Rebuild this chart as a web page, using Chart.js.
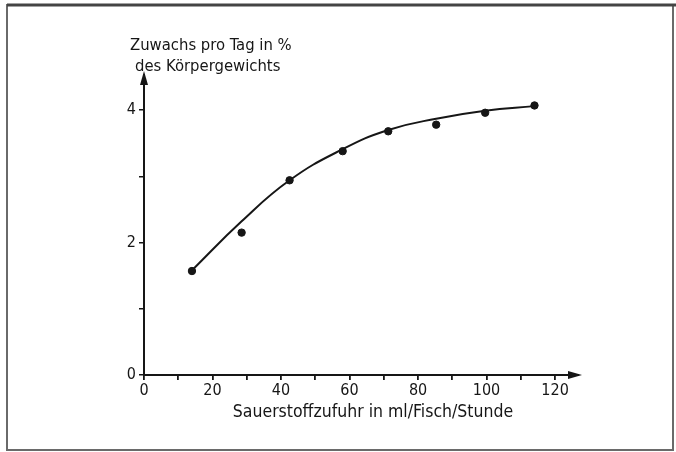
<!DOCTYPE html>
<html>
  <head>
    <title>Zuwachs vs Sauerstoffzufuhr</title>
    <style>
      body {
        margin: 0;
        background: #fff;
      }
    </style>
    <script src="https://cdn.jsdelivr.net/npm/chart.js"></script>
  </head>
  <body>
    <canvas id="chart" width="676" height="452"></canvas>

    <script>
      // values
      const oxygen = [14, 28.5, 42.5, 58, 71.3, 85.3, 99.6, 114];
      const growth = [1.57, 2.15, 2.94, 3.38, 3.68, 3.78, 3.96, 4.07];
      const fitted = [1.58, 2.32, 2.94, 3.41, 3.7, 3.87, 3.99, 4.06];
      const xTicks = [0, 10, 20, 30, 40, 50, 60, 70, 80, 90, 100, 110, 120];
      const yTicks = [0, 1, 2, 3, 4];

      const ink = "#161616";
      const fontFamily = "'DejaVu Sans Condensed', 'DejaVu Sans', sans-serif";

      const frameAndText = {
        id: "frameAndText",
        beforeDraw(chart) {
          const ctx = chart.ctx;
          ctx.save();
          ctx.fillStyle = "#fff";
          ctx.fillRect(0, 0, chart.width, chart.height);
          ctx.strokeStyle = "#6a6a6a";
          ctx.lineWidth = 2;
          ctx.strokeRect(7, 5, 666, 445);
          ctx.strokeStyle = "#444";
          ctx.lineWidth = 3;
          ctx.beginPath();
          ctx.moveTo(7, 5);
          ctx.lineTo(676, 5);
          ctx.stroke();
          ctx.restore();
        },
        afterDraw(chart) {
          const ctx = chart.ctx;
          const { left, right, top, bottom } = chart.chartArea;
          ctx.save();
          ctx.fillStyle = ink;
          // arrow heads
          ctx.beginPath();
          ctx.moveTo(left, top - 4);
          ctx.lineTo(left - 4, top + 10);
          ctx.lineTo(left + 4, top + 10);
          ctx.closePath();
          ctx.fill();
          ctx.beginPath();
          ctx.moveTo(right + 4, bottom);
          ctx.lineTo(right - 10, bottom - 4);
          ctx.lineTo(right - 10, bottom + 4);
          ctx.closePath();
          ctx.fill();

          ctx.font = "16.5px " + fontFamily;
          ctx.textAlign = "left";
          ctx.textBaseline = "middle";
          ctx.fillText("Zuwachs pro Tag in %", 130, 46);
          ctx.fillText("des Körpergewichts", 135, 67);
          ctx.font = "17.5px " + fontFamily;
          ctx.textAlign = "center";
          ctx.fillText("Sauerstoffzufuhr in ml/Fisch/Stunde", 373, 412);
          ctx.restore();
        },
      };

      new Chart(document.getElementById("chart"), {
        type: "scatter",
        data: {
          datasets: [
            {
              label: "Kurve",
              type: "line",
              data: oxygen.map((x, i) => ({ x, y: fitted[i] })),
              borderColor: ink,
              borderWidth: 2,
              pointRadius: 0,
              tension: 0.45,
              fill: false,
            },
            {
              label: "Messwerte",
              data: oxygen.map((x, i) => ({ x, y: growth[i] })),
              backgroundColor: ink,
              borderColor: ink,
              pointRadius: 3.7,
            },
          ],
        },
        options: {
          responsive: false,
          animation: false,
          layout: { padding: { left: 0, top: 75, right: 98, bottom: 0 } },
          plugins: {
            legend: { display: false },
            tooltip: { enabled: false },
          },
          scales: {
            x: {
              type: "linear",
              min: 0,
              max: 126.7,
              afterBuildTicks: (scale) => {
                scale.ticks = xTicks.map((value) => ({ value }));
              },
              afterFit: (scale) => {
                scale.height = 77;
              },
              ticks: {
                color: ink,
                padding: 1,
                maxRotation: 0,
                autoSkip: false,
                font: { size: 16, family: fontFamily },
                callback: (v) => (v % 20 === 0 ? v : ""),
              },
              grid: {
                drawOnChartArea: false,
                tickLength: 5,
                color: ink,
                lineWidth: 1.8,
              },
              border: { color: ink, width: 2 },
            },
            y: {
              min: 0,
              max: 4.53,
              afterBuildTicks: (scale) => {
                scale.ticks = yTicks.map((value) => ({ value }));
              },
              afterFit: (scale) => {
                scale.width = 144;
              },
              ticks: {
                color: ink,
                padding: 3,
                font: { size: 16, family: fontFamily },
                callback: (v) => (v % 2 === 0 ? v : ""),
              },
              grid: {
                drawOnChartArea: false,
                tickLength: 5,
                color: ink,
                lineWidth: 1.5,
              },
              border: { color: ink, width: 2 },
            },
          },
        },
        plugins: [frameAndText],
      });
    </script>
  </body>
</html>
